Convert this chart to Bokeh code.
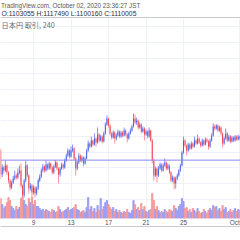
from bokeh.plotting import figure
from bokeh.models import Range1d, FixedTicker, Span, ColumnDataSource
from bokeh.core.properties import value
from bokeh.embed import file_html
from bokeh.resources import INLINE

# ---- data (BTC/JPY, 240 min candles, prices in thousand JPY) ----
closes = [1091.7, 1100.6, 1096.8, 1103.2, 1094.3, 1084.1, 1075.2, 1081.5, 1086.6, 1090.4,
          1087.9, 1094.3, 1096.8, 1077.7, 1065.0, 1084.1, 1103.2, 1090.4, 1073.9, 1077.7,
          1068.8, 1075.2, 1067.5, 1073.9, 1084.1, 1089.2, 1096.8, 1101.9, 1096.8, 1104.5,
          1099.4, 1105.7, 1100.6, 1094.3, 1101.9, 1107.0, 1099.4, 1091.7, 1099.4, 1104.5,
          1100.6, 1109.6, 1115.9, 1122.3, 1114.6, 1122.3, 1124.8, 1112.1, 1099.4, 1107.0,
          1115.9, 1109.6, 1113.4, 1105.7, 1112.1, 1122.3, 1131.2, 1127.4, 1135.0, 1129.9,
          1137.6, 1132.5, 1142.7, 1135.0, 1140.1, 1133.8, 1144.0, 1155.4, 1163.1, 1154.1,
          1144.0, 1138.9, 1145.2, 1137.6, 1141.4, 1146.5, 1140.1, 1145.2, 1141.4, 1147.8,
          1142.7, 1137.6, 1144.0, 1147.8, 1152.9, 1163.1, 1158.0, 1160.5, 1151.6, 1155.4,
          1146.5, 1150.3, 1142.7, 1146.5, 1140.1, 1147.8, 1135.0, 1109.6, 1090.4, 1099.4,
          1090.4, 1099.4, 1104.5, 1096.8, 1103.2, 1107.0, 1099.4, 1103.2, 1094.3, 1084.1,
          1087.9, 1080.3, 1086.6, 1090.4, 1096.8, 1103.2, 1119.7, 1135.0, 1128.7, 1122.3,
          1129.9, 1124.8, 1131.2, 1127.4, 1135.0, 1131.2, 1137.6, 1132.5, 1128.7, 1135.0,
          1129.9, 1136.3, 1133.8, 1127.4, 1135.0, 1141.4, 1152.9, 1150.3, 1154.1, 1147.8,
          1151.6, 1144.0, 1131.2, 1137.6, 1144.0, 1135.0, 1140.1, 1133.8, 1138.9, 1135.0,
          1140.1, 1136.3, 1140.1, 1137.6]

opens = [1122.3, 1091.7, 1100.6, 1096.8, 1103.2, 1094.3, 1084.1, 1075.2, 1081.5, 1086.6,
         1090.4, 1087.9, 1094.3, 1096.8, 1077.7, 1065.0, 1084.1, 1103.2, 1090.4, 1073.9,
         1077.7, 1068.8, 1075.2, 1067.5, 1073.9, 1084.1, 1089.2, 1096.8, 1101.9, 1096.8,
         1104.5, 1099.4, 1105.7, 1100.6, 1094.3, 1101.9, 1107.0, 1099.4, 1091.7, 1099.4,
         1104.5, 1100.6, 1109.6, 1115.9, 1122.3, 1114.6, 1122.3, 1124.8, 1112.1, 1099.4,
         1107.0, 1115.9, 1109.6, 1113.4, 1105.7, 1112.1, 1122.3, 1131.2, 1127.4, 1135.0,
         1129.9, 1137.6, 1132.5, 1142.7, 1135.0, 1140.1, 1133.8, 1144.0, 1155.4, 1163.1,
         1154.1, 1144.0, 1138.9, 1145.2, 1137.6, 1141.4, 1146.5, 1140.1, 1145.2, 1141.4,
         1147.8, 1142.7, 1137.6, 1144.0, 1147.8, 1152.9, 1163.1, 1158.0, 1160.5, 1151.6,
         1155.4, 1146.5, 1150.3, 1142.7, 1146.5, 1140.1, 1147.8, 1135.0, 1109.6, 1090.4,
         1099.4, 1090.4, 1099.4, 1104.5, 1096.8, 1103.2, 1107.0, 1099.4, 1103.2, 1094.3,
         1084.1, 1087.9, 1080.3, 1086.6, 1090.4, 1096.8, 1103.2, 1119.7, 1135.0, 1128.7,
         1122.3, 1129.9, 1124.8, 1131.2, 1127.4, 1135.0, 1131.2, 1137.6, 1132.5, 1128.7,
         1135.0, 1129.9, 1136.3, 1133.8, 1127.4, 1135.0, 1141.4, 1152.9, 1150.3, 1154.1,
         1147.8, 1151.6, 1144.0, 1131.2, 1137.6, 1144.0, 1135.0, 1140.1, 1133.8, 1138.9,
         1135.0, 1140.1, 1136.3, 1140.1]

highs = [1125.0, 1104.5, 1103.0, 1109.6, 1105.0, 1096.0, 1086.0, 1084.0, 1090.0, 1096.8,
         1093.0, 1099.4, 1103.2, 1105.7, 1079.0, 1086.0, 1109.6, 1105.0, 1092.0, 1081.0,
         1079.5, 1078.0, 1077.0, 1076.5, 1086.6, 1092.0, 1099.4, 1105.0, 1103.5, 1109.6,
         1106.0, 1108.0, 1107.0, 1102.0, 1104.0, 1110.0, 1108.5, 1101.0, 1101.5, 1107.0,
         1106.0, 1112.0, 1118.5, 1125.0, 1124.0, 1127.4, 1129.9, 1126.5, 1114.0, 1109.0,
         1119.0, 1117.5, 1116.0, 1115.0, 1114.5, 1124.5, 1135.0, 1133.0, 1140.1, 1136.5,
         1144.0, 1139.0, 1151.6, 1144.5, 1142.5, 1141.5, 1146.5, 1158.0, 1166.9, 1164.3,
         1156.0, 1146.0, 1148.0, 1147.0, 1144.0, 1149.0, 1148.0, 1147.5, 1147.0, 1151.6,
         1149.5, 1144.5, 1146.0, 1150.3, 1155.4, 1169.4, 1168.1, 1164.3, 1162.0, 1158.0,
         1157.0, 1153.0, 1152.0, 1149.0, 1148.0, 1151.6, 1149.0, 1137.0, 1112.0, 1102.0,
         1101.0, 1102.5, 1107.0, 1106.0, 1105.7, 1112.1, 1108.5, 1106.0, 1105.0, 1096.0,
         1090.5, 1089.5, 1089.0, 1093.0, 1099.0, 1105.5, 1122.0, 1140.1, 1137.0, 1130.0,
         1132.5, 1131.5, 1134.0, 1133.0, 1140.1, 1137.0, 1142.7, 1139.0, 1134.0, 1137.5,
         1136.5, 1139.0, 1138.5, 1135.5, 1137.5, 1144.0, 1156.7, 1155.4, 1156.0, 1155.5,
         1154.0, 1153.0, 1145.5, 1140.0, 1150.3, 1146.0, 1142.5, 1142.0, 1141.0, 1140.5,
         1142.0, 1141.5, 1142.5, 1141.5]

lows = [1086.0, 1088.5, 1093.0, 1095.0, 1091.0, 1080.3, 1071.3, 1073.0, 1079.5, 1084.5,
        1085.0, 1086.0, 1092.0, 1075.0, 1061.1, 1062.4, 1082.0, 1088.0, 1067.5, 1071.0,
        1062.4, 1066.0, 1062.4, 1065.0, 1072.0, 1082.0, 1087.0, 1094.5, 1094.0, 1095.0,
        1097.0, 1097.5, 1098.0, 1091.7, 1092.5, 1100.0, 1097.0, 1080.3, 1089.0, 1097.5,
        1098.0, 1099.0, 1108.0, 1114.0, 1112.0, 1113.0, 1120.0, 1110.0, 1090.4, 1097.0,
        1105.0, 1107.5, 1107.0, 1101.9, 1104.0, 1111.0, 1120.5, 1125.0, 1126.0, 1127.5,
        1128.5, 1127.4, 1131.0, 1132.5, 1133.5, 1131.2, 1132.5, 1142.5, 1153.5, 1151.6,
        1141.4, 1136.3, 1137.5, 1131.2, 1135.0, 1139.5, 1138.0, 1138.5, 1139.0, 1140.0,
        1140.5, 1132.5, 1136.0, 1142.5, 1146.0, 1151.6, 1155.5, 1155.0, 1149.0, 1150.0,
        1144.0, 1145.0, 1135.0, 1141.0, 1137.6, 1138.5, 1133.0, 1105.7, 1084.1, 1088.5,
        1081.5, 1088.5, 1097.5, 1094.5, 1095.5, 1101.5, 1097.0, 1097.5, 1092.0, 1081.5,
        1082.0, 1072.6, 1073.9, 1084.5, 1089.0, 1095.0, 1101.9, 1118.0, 1126.0, 1115.9,
        1120.5, 1122.5, 1123.5, 1125.0, 1126.0, 1129.0, 1130.0, 1130.5, 1126.0, 1127.5,
        1127.5, 1128.5, 1131.5, 1123.5, 1125.5, 1133.5, 1140.0, 1147.5, 1148.5, 1145.5,
        1146.0, 1141.5, 1126.1, 1129.5, 1136.0, 1133.0, 1133.5, 1131.5, 1132.5, 1133.0,
        1133.5, 1134.5, 1135.0, 1135.5]

volumes = [2000, 1400, 1000, 1200, 1600, 2100, 1800, 1200, 1000, 800,
           1200, 900, 1100, 2000, 2200, 1800, 1400, 1200, 2000, 1600,
           2100, 1400, 1800, 1200, 1200, 1000, 800, 900, 700, 900,
           800, 700, 600, 900, 800, 600, 700, 1200, 900, 600,
           700, 800, 900, 1100, 800, 900, 1000, 1100, 1400, 900,
           800, 600, 700, 800, 600, 1100, 2100, 900, 1200, 700,
           1000, 600, 1300, 800, 2000, 900, 1200, 1600, 1800, 1400,
           1100, 900, 1100, 700, 900, 600, 800, 600, 500, 700,
           600, 900, 600, 500, 800, 1800, 1400, 900, 1100, 800,
           1500, 900, 1200, 700, 600, 800, 900, 2500, 1800, 900,
           1200, 800, 600, 700, 600, 900, 700, 600, 900, 800,
           700, 1300, 1000, 800, 1200, 1400, 2000, 1700, 1000, 1100,
           700, 900, 600, 1000, 800, 600, 1000, 700, 500, 600,
           900, 700, 500, 800, 1000, 800, 1300, 1100, 1200, 800,
           1000, 700, 1300, 900, 1100, 600, 700, 900, 600, 800,
           1000, 700, 900, 800]

# time axis: candle index of each labelled day (Sep 9, 13, 17, 21, 25, Oct 1)
tick_idx = [21, 45, 69, 93, 117, 153]
tick_labels = ["9", "13", "17", "21", "25", "Oct"]
price_grid = [1000, 1020, 1040, 1060, 1080, 1100, 1120, 1140, 1160,
              1180, 1200, 1220, 1240, 1260, 1280, 1300]

ohlc_names = ["O", "H", "L", "C"]
ohlc_values = [1103055, 1117490, 1100160, 1110005]
header_1 = "TradingView.com, October 02, 2020 23:36:27 JST"
header_3 = "日本円 取引, 240"

UP, DN = "#4169e1", "#ef4453"
UP_W, DN_W = "#8c8cf5", "#f4959f"
UP_V, DN_V = "#9d9df3", "#f59a9a"

n = len(closes)
idx = list(range(n))
is_up = [c >= o for o, c in zip(opens, closes)]
src = ColumnDataSource(dict(
    x=idx, o=opens, h=highs, l=lows, c=closes, v=volumes,
    top=[max(o, c) for o, c in zip(opens, closes)],
    bot=[min(o, c) for o, c in zip(opens, closes)],
    body=[UP if u else DN for u in is_up],
    wick=[UP_W if u else DN_W for u in is_up],
    vcol=[UP_V if u else DN_V for u in is_up],
))

p = figure(width=240, height=240, output_backend="svg", toolbar_location=None,
           x_range=Range1d(-0.12, 153.48), y_range=Range1d(1007.6, 1313.4),
           x_axis_location=None, y_axis_location=None, title=None,
           min_border=0, background_fill_color="white", border_fill_color="white",
           outline_line_color=None)
p.extra_x_ranges = {"px_x": Range1d(0, 240)}
p.extra_y_ranges = {"px": Range1d(240, 0), "vol": Range1d(-2200, 21800)}

p.xgrid.ticker = FixedTicker(ticks=tick_idx)
p.ygrid.ticker = FixedTicker(ticks=price_grid)
p.grid.grid_line_color = "#eef1f7"
p.grid.grid_line_width = 1

# volume
p.vbar(x="x", top="v", bottom=0, width=0.75, color="vcol", source=src, y_range_name="vol")

# last price line
p.add_layout(Span(location=ohlc_values[3] / 1000, dimension="width",
                  line_color="#8888f2", line_width=1))

# candles
p.segment(x0="x", y0="l", x1="x", y1="h", line_color="wick", line_width=1, source=src)
p.vbar(x="x", top="top", bottom="bot", width=0.62, fill_color="body", line_color=None, source=src)

# header & footer panels
p.quad(left=0, right=240, top=0, bottom=17, x_range_name="px_x", y_range_name="px",
       fill_color="white", line_color=None)
p.quad(left=0, right=240, top=218, bottom=240, x_range_name="px_x", y_range_name="px",
       fill_color="white", line_color=None)
p.add_layout(Span(location=17, dimension="width", y_range_name="px",
                  line_color="#c9ccd4", line_width=1))
p.add_layout(Span(location=226, dimension="width", y_range_name="px",
                  line_color="#c9ccd4", line_width=1))

header_2 = " ".join(f"{k}:{v}" for k, v in zip(ohlc_names, ohlc_values))
p.text(x=0.5, y=5, text=[header_1], x_range_name="px_x", y_range_name="px",
       text_align="left", text_baseline="middle", text_color="#555862",
       text_font=value("Liberation Sans"), text_font_size=value("6.3px"))
p.text(x=1, y=12.5, text=[header_2], x_range_name="px_x", y_range_name="px",
       text_align="left", text_baseline="middle", text_color="#2f3036",
       text_font=value("Liberation Sans"), text_font_size=value("6.8px"))
p.text(x=1, y=24, text=[header_3], x_range_name="px_x", y_range_name="px",
       text_align="left", text_baseline="middle", text_color="#6a6d78",
       text_font=value("Noto Sans CJK JP"), text_font_size=value("7.2px"))

# time axis labels
tick_src = ColumnDataSource(dict(x=tick_idx, t=tick_labels,
                                 a=["center"] * (len(tick_idx) - 1) + ["right"]))
p.text(x="x", y=222, text="t", text_align="a", source=tick_src, y_range_name="px",
       text_baseline="middle", text_color="#50535e",
       text_font=value("Liberation Sans"), text_font_size=value("6.5px"))

open("out.html", "w").write(file_html(p, INLINE))
